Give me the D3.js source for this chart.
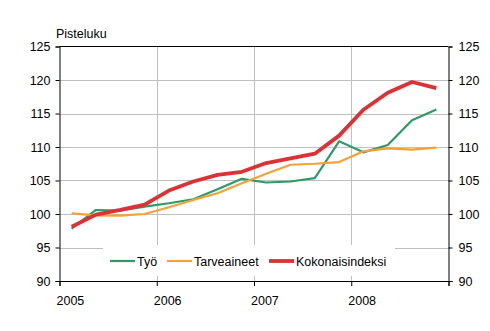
<!DOCTYPE html>
<html><head><meta charset="utf-8">
<script src="https://cdn.jsdelivr.net/npm/d3@7"></script>
<style>body{margin:0;background:#fff}svg{display:block;font-family:"Liberation Sans",Arial,sans-serif}</style>
</head><body><svg id="c" width="490" height="331"></svg>
<script>
const years = ["2005","2006","2007","2008"];
const quarters = d3.range(16);
const tyo = [97.8,100.6,100.5,101.1,101.6,102.2,103.7,105.25,104.7,104.85,105.35,110.85,109.2,110.3,114.0,115.6];
const tarveaineet = [100.1,99.8,99.75,100.0,101.0,102.1,103.1,104.6,106.0,107.35,107.5,107.75,109.35,109.8,109.6,109.9];
const kokonais = [98.1,99.9,100.6,101.4,103.5,104.85,105.85,106.3,107.6,108.3,109.0,111.7,115.55,118.1,119.7,118.8];
const yTicks = [90,95,100,105,110,115,120,125];
const seriesNames = ["Työ","Tarveaineet","Kokonaisindeksi"];
const colors = ["#2e9a66","#f7a035","#dc3236"];
const widths = [2.2,2.2,3.8];

const svg = d3.select("#c");
const L=59.5,R=448.5,T=46.5,B=281;
const x = d3.scaleLinear().domain([0,16]).range([L,R]);
const y = d3.scaleLinear().domain([90,125]).range([B,T]);

// gridlines
svg.append("g").selectAll("line").data(yTicks.filter(v=>v>90&&v<125)).join("line")
 .attr("x1",L).attr("x2",R).attr("y1",d=>Math.round(y(d))+0.5).attr("y2",d=>Math.round(y(d))+0.5)
 .attr("stroke","#c0c0c0").attr("stroke-width",1);
svg.append("g").selectAll("line").data([4,8,12]).join("line")
 .attr("x1",d=>Math.round(x(d))+0.5).attr("x2",d=>Math.round(x(d))+0.5).attr("y1",T).attr("y2",B)
 .attr("stroke","#c0c0c0").attr("stroke-width",1);

// legend background
svg.append("rect").attr("x",103).attr("y",245).attr("width",292).attr("height",31).attr("fill","#fff");

// frame lines
svg.append("line").attr("x1",L).attr("x2",R).attr("y1",T).attr("y2",T).attr("stroke","#000");
// axes
const yl = d3.axisLeft(y).tickValues(yTicks).tickSize(4).tickPadding(5);
const yr = d3.axisRight(y).tickValues(yTicks).tickSize(4).tickPadding(6);
const gl = svg.append("g").attr("transform",`translate(${L},0)`).call(yl);
const gr = svg.append("g").attr("transform",`translate(${R},0)`).call(yr);
const xa = d3.axisBottom(x).tickValues([0,4,8,12,16]).tickSize(5).tickFormat("");
const gx = svg.append("g").attr("transform",`translate(0,${B})`).call(xa);
[gl,gr,gx].forEach(g=>{g.select(".domain").attr("stroke","#000");g.selectAll(".tick line").attr("stroke","#000");
 g.selectAll("text").attr("fill","#000").attr("font-size",12.5).attr("font-family","Liberation Sans, Arial, sans-serif");});
svg.append("g").selectAll("text").data(years).join("text")
 .attr("x",(d,i)=>x(i*4)-3).attr("y",305).attr("font-size",12.5).attr("fill","#000").text(d=>d);
svg.append("text").attr("x",56).attr("y",38).attr("font-size",12.5).attr("fill","#000").text("Pisteluku");

// lines
const data=[tyo,tarveaineet,kokonais];
const line = d3.line().x((d,i)=>x(i+0.5)).y(d=>y(d));
data.forEach((s,k)=>{
 svg.append("path").datum(s).attr("d",line).attr("fill","none").attr("stroke",colors[k]).attr("stroke-width",widths[k]).attr("stroke-linejoin","round");
});

// legend
const lx=[110,167,269];
seriesNames.forEach((n,k)=>{
 svg.append("line").attr("x1",lx[k]).attr("x2",lx[k]+25).attr("y1",261).attr("y2",261).attr("stroke",colors[k]).attr("stroke-width",widths[k]);
 svg.append("text").attr("x",lx[k]+27).attr("y",265.5).attr("font-size",12.5).attr("fill","#000").text(n);
});
</script></body></html>
